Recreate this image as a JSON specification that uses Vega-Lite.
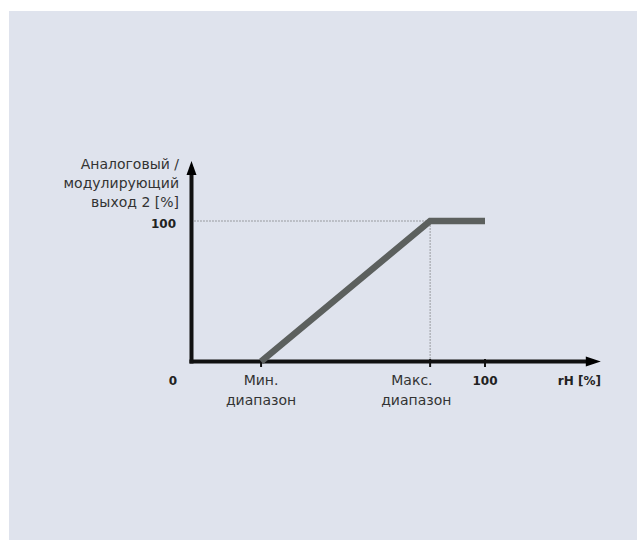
{
  "$schema": "https://vega.github.io/schema/vega-lite/v6.json",
  "width": 628,
  "height": 529,
  "autosize": "none",
  "padding": {"left": 9, "top": 11, "right": 0, "bottom": 0},
  "background": "#ffffff",
  "config": {"view": {"fill": "#dfe3ed", "stroke": null}, "text": {"font": "DejaVu Sans", "fontSize": 14}},
  "encoding": {
    "x": {"field": "x", "type": "quantitative", "scale": {"domain": [-62.18, 151.79], "nice": false, "zero": false}, "axis": null},
    "y": {"field": "y", "type": "quantitative", "scale": {"domain": [-127.05, 249.47], "nice": false, "zero": false}, "axis": null}
  },
  "layer": [
    {
      "data": {"values": [{"x": 0, "y": 100, "x2": 81.3, "y2": 100}, {"x": 81.3, "y": 0, "x2": 81.3, "y2": 100}]},
      "mark": {"type": "rule", "color": "#555555", "strokeWidth": 1, "strokeDash": [1, 2]},
      "encoding": {"x2": {"field": "x2"}, "y2": {"field": "y2"}}
    },
    {
      "data": {"values": [{"x": -0.7, "y": 0, "x2": 137, "y2": 0}, {"x": 0, "y": -1.4, "x2": 0, "y2": 138}]},
      "mark": {"type": "rule", "color": "#111111", "strokeWidth": 4},
      "encoding": {"x2": {"field": "x2"}, "y2": {"field": "y2"}}
    },
    {
      "data": {"values": [{"x": 23.7, "y": 1.8, "y2": -3.9}, {"x": 81.3, "y": 1.8, "y2": -3.9}, {"x": 100, "y": 1.8, "y2": -3.9}]},
      "mark": {"type": "rule", "color": "#111111", "strokeWidth": 2},
      "encoding": {"y2": {"field": "y2"}}
    },
    {
      "data": {"values": [{"x": 23.7, "y": 0}, {"x": 81.3, "y": 100}, {"x": 100, "y": 100}]},
      "mark": {"type": "line", "color": "#5c605e", "strokeWidth": 6.5, "strokeCap": "butt", "strokeJoin": "miter"},
      "encoding": {"order": {"field": "x", "type": "quantitative"}}
    },
    {
      "data": {"values": [{"x": 136.9, "y": 0}]},
      "mark": {"type": "point", "shape": "M-1,-0.667L1,0L-1,0.667Z", "size": 225, "filled": true, "color": "#000000", "opacity": 1}
    },
    {
      "data": {"values": [{"x": 0, "y": 137.7}]},
      "mark": {"type": "point", "shape": "M-0.714,1L0,-1L0.714,1Z", "size": 196, "filled": true, "color": "#000000", "opacity": 1}
    },
    {
      "data": {"values": [
        {"x": -4.26, "y": 137.0, "label": "Аналоговый /"},
        {"x": -4.26, "y": 123.5, "label": "модулирующий"},
        {"x": -4.26, "y": 110.0, "label": "выход 2 [%]"}
      ]},
      "mark": {"type": "text", "align": "right", "baseline": "alphabetic", "color": "#333333"},
      "encoding": {"text": {"field": "label"}}
    },
    {
      "data": {"values": [
        {"x": 23.7, "y": -16.7, "label": "Мин."},
        {"x": 23.7, "y": -31.0, "label": "диапазон"},
        {"x": 75.1, "y": -16.7, "label": "Макс."},
        {"x": 76.6, "y": -31.0, "label": "диапазон"}
      ]},
      "mark": {"type": "text", "align": "center", "baseline": "alphabetic", "color": "#333333"},
      "encoding": {"text": {"field": "label"}}
    },
    {
      "data": {"values": [
        {"x": -6.3, "y": -16.7, "label": "0"},
        {"x": 100, "y": -16.7, "label": "100"}
      ]},
      "mark": {"type": "text", "align": "center", "baseline": "alphabetic", "fontWeight": "bold", "fontSize": 12, "color": "#222222"},
      "encoding": {"text": {"field": "label"}}
    },
    {
      "data": {"values": [
        {"x": -5.28, "y": 95.0, "label": "100"},
        {"x": 139.5, "y": -16.7, "label": "rH [%]"}
      ]},
      "mark": {"type": "text", "align": "right", "baseline": "alphabetic", "fontWeight": "bold", "fontSize": 12, "color": "#222222"},
      "encoding": {"text": {"field": "label"}}
    }
  ]
}
